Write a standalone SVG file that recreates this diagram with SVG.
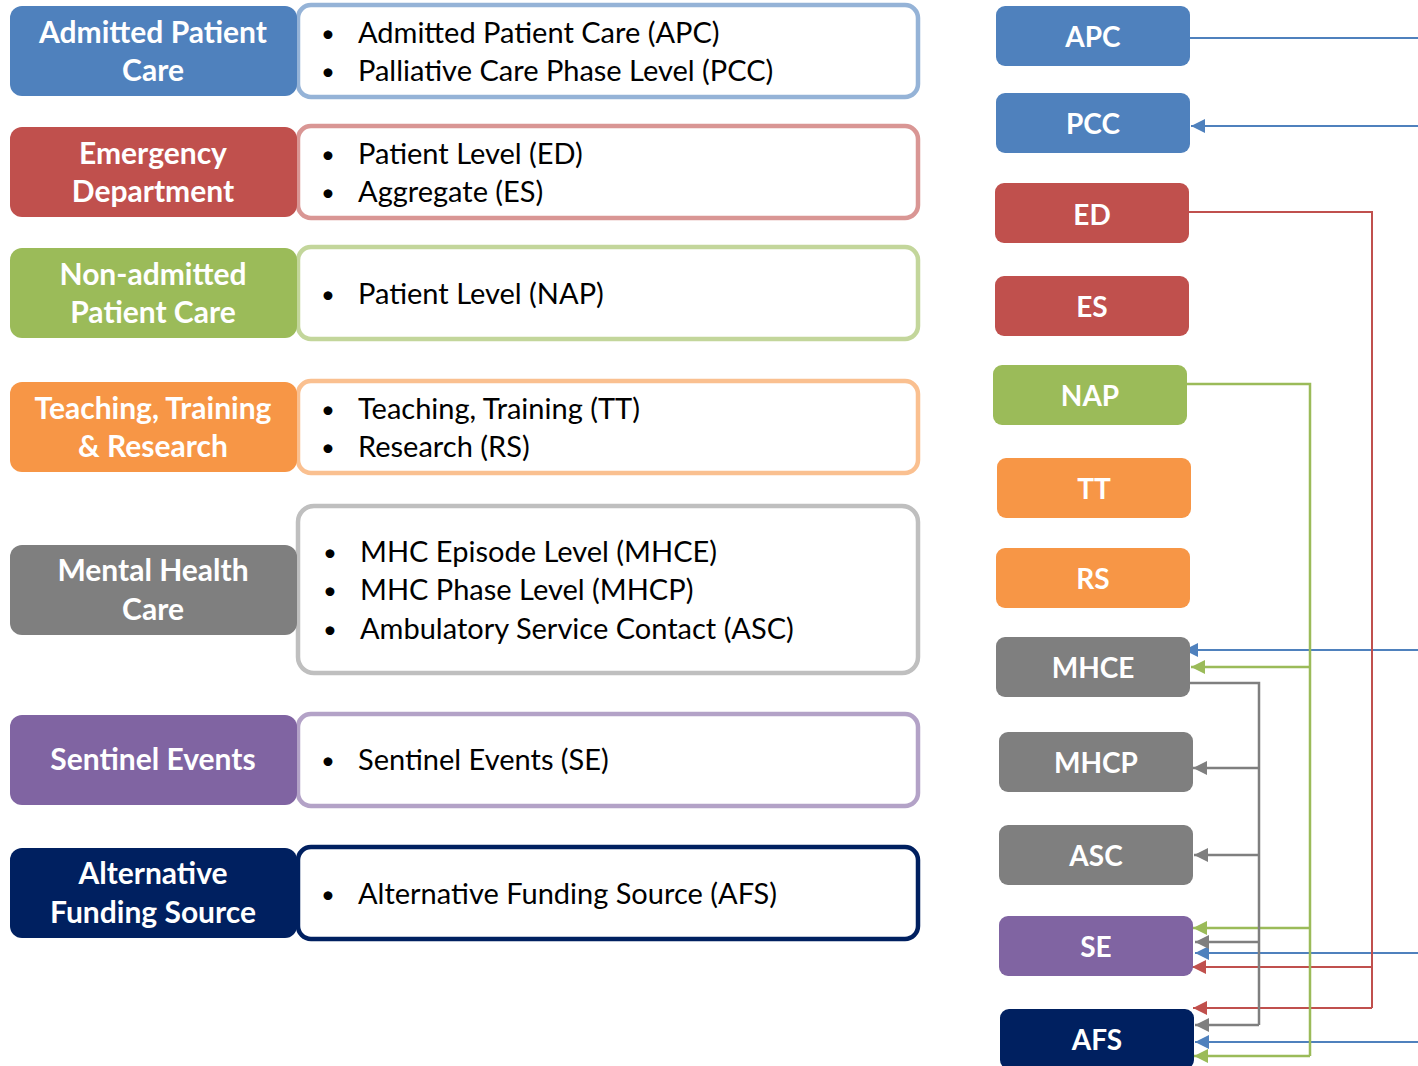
<svg xmlns="http://www.w3.org/2000/svg" width="1418" height="1066" viewBox="0 0 1418 1066">
<style>
.lab{font-family:Lato,"Open Sans","Liberation Sans",sans-serif;font-weight:bold;font-size:30px;fill:#fff;text-anchor:middle}
.txt{font-family:Lato,"Open Sans","Liberation Sans",sans-serif;font-size:29px;fill:#000}
.bul{font-family:Lato,"Open Sans","Liberation Sans",sans-serif;font-size:24px;fill:#000}
.nl{font-family:Lato,"Open Sans","Liberation Sans",sans-serif;font-weight:bold;font-size:28px;fill:#fff;text-anchor:middle}
.desc{fill:#fff;stroke-width:4.5}
.c{fill:none}
.b{stroke:#4F81BD;stroke-width:2}
.r{stroke:#C0504D;stroke-width:2}
.g{stroke:#9BBB59;stroke-width:2.5}
.k{stroke:#7F7F7F;stroke-width:2.5}
</style>
<defs>
<marker id="ab" markerUnits="userSpaceOnUse" markerWidth="15" markerHeight="15" refX="14" refY="7" orient="auto"><path d="M0,0 L14,7 L0,14 z" fill="#4F81BD"/></marker>
<marker id="ar" markerUnits="userSpaceOnUse" markerWidth="15" markerHeight="15" refX="14" refY="7" orient="auto"><path d="M0,0 L14,7 L0,14 z" fill="#C0504D"/></marker>
<marker id="ag" markerUnits="userSpaceOnUse" markerWidth="15" markerHeight="15" refX="14" refY="7" orient="auto"><path d="M0,0 L14,7 L0,14 z" fill="#9BBB59"/></marker>
<marker id="ak" markerUnits="userSpaceOnUse" markerWidth="15" markerHeight="15" refX="14" refY="7" orient="auto"><path d="M0,0 L14,7 L0,14 z" fill="#7F7F7F"/></marker>
</defs>
<rect width="1418" height="1066" fill="#fff"/>

<g id="cat-apc">
<rect x="298" y="5" width="620" height="92" rx="13" class="desc" stroke="#95B3D7"/>
<rect x="10" y="6" width="287" height="90" rx="12" fill="#4F81BD"/>
<text class="lab" x="153" y="43">Admitted Patient</text>
<text class="lab" x="153" y="81">Care</text>
<text class="bul" x="321" y="42">•</text><text class="txt" x="358" y="43">Admitted Patient Care (APC)</text>
<text class="bul" x="321" y="80">•</text><text class="txt" x="358" y="81">Palliative Care Phase Level (PCC)</text>
</g>
<g id="cat-ed">
<rect x="298" y="126" width="620" height="92" rx="13" class="desc" stroke="#D99694"/>
<rect x="10" y="127" width="287" height="90" rx="12" fill="#C0504D"/>
<text class="lab" x="153" y="164">Emergency</text>
<text class="lab" x="153" y="202">Department</text>
<text class="bul" x="321" y="163">•</text><text class="txt" x="358" y="164">Patient Level (ED)</text>
<text class="bul" x="321" y="201">•</text><text class="txt" x="358" y="202">Aggregate (ES)</text>
</g>
<g id="cat-nap">
<rect x="298" y="247" width="620" height="92" rx="13" class="desc" stroke="#C3D69B"/>
<rect x="10" y="248" width="287" height="90" rx="12" fill="#9BBB59"/>
<text class="lab" x="153" y="285">Non-admitted</text>
<text class="lab" x="153" y="323">Patient Care</text>
<text class="bul" x="321" y="303">•</text><text class="txt" x="358" y="304">Patient Level (NAP)</text>
</g>
<g id="cat-ttr">
<rect x="298" y="381" width="620" height="92" rx="13" class="desc" stroke="#FAC090"/>
<rect x="10" y="382" width="287" height="90" rx="12" fill="#F79646"/>
<text class="lab" x="153" y="419">Teaching, Training</text>
<text class="lab" x="153" y="457">&amp; Research</text>
<text class="bul" x="321" y="418">•</text><text class="txt" x="358" y="419">Teaching, Training (TT)</text>
<text class="bul" x="321" y="456">•</text><text class="txt" x="358" y="457">Research (RS)</text>
</g>
<g id="cat-mhc">
<rect x="298" y="506" width="620" height="167" rx="16" class="desc" stroke="#BFBFBF"/>
<rect x="10" y="545" width="287" height="90" rx="12" fill="#7F7F7F"/>
<text class="lab" x="153" y="581">Mental Health</text>
<text class="lab" x="153" y="620">Care</text>
<text class="bul" x="323" y="561">•</text><text class="txt" x="360" y="562">MHC Episode Level (MHCE)</text>
<text class="bul" x="323" y="599">•</text><text class="txt" x="360" y="600">MHC Phase Level (MHCP)</text>
<text class="bul" x="323" y="638">•</text><text class="txt" x="360" y="639">Ambulatory Service Contact (ASC)</text>
</g>
<g id="cat-se">
<rect x="298" y="714" width="620" height="92" rx="13" class="desc" stroke="#B3A2C7"/>
<rect x="10" y="715" width="287" height="90" rx="12" fill="#8064A2"/>
<text class="lab" x="153" y="770">Sentinel Events</text>
<text class="bul" x="321" y="769">•</text><text class="txt" x="358" y="770">Sentinel Events (SE)</text>
</g>
<g id="cat-afs">
<rect x="298" y="847" width="620" height="92" rx="13" class="desc" stroke="#002060"/>
<rect x="10" y="848" width="287" height="90" rx="12" fill="#002060"/>
<text class="lab" x="153" y="884">Alternative</text>
<text class="lab" x="153" y="923">Funding Source</text>
<text class="bul" x="321" y="903">•</text><text class="txt" x="358" y="904">Alternative Funding Source (AFS)</text>
</g>

<g id="connectors" class="c">
<path class="c b" d="M1190,38 H1418"/>
<path class="c b" d="M1418,126 H1191" marker-end="url(#ab)"/>
<path class="c b" d="M1418,650 H1184" marker-end="url(#ab)"/>
<path class="c b" d="M1418,953 H1195" marker-end="url(#ab)"/>
<path class="c b" d="M1418,1042 H1195" marker-end="url(#ab)"/>
<path class="c r" d="M1189,212 H1372 V1008"/>
<path class="c r" d="M1372,967 H1192" marker-end="url(#ar)"/>
<path class="c r" d="M1372,1008 H1193" marker-end="url(#ar)"/>
<path class="c g" d="M1187,384 H1310 V1056"/>
<path class="c g" d="M1310,667 H1191" marker-end="url(#ag)"/>
<path class="c g" d="M1310,928 H1193" marker-end="url(#ag)"/>
<path class="c g" d="M1310,1056 H1194" marker-end="url(#ag)"/>
<path class="c k" d="M1190,683 H1259 V1025"/>
<path class="c k" d="M1259,768 H1193" marker-end="url(#ak)"/>
<path class="c k" d="M1259,855 H1194" marker-end="url(#ak)"/>
<path class="c k" d="M1259,942 H1195" marker-end="url(#ak)"/>
<path class="c k" d="M1259,1025 H1195" marker-end="url(#ak)"/>
</g>

<g id="n-apc"><rect x="996" y="6" width="194" height="60" rx="9" fill="#4F81BD"/><text class="nl" x="1093" y="47">APC</text></g>
<g id="n-pcc"><rect x="996" y="93" width="194" height="60" rx="9" fill="#4F81BD"/><text class="nl" x="1093" y="134">PCC</text></g>
<g id="n-ed"><rect x="995" y="183" width="194" height="60" rx="9" fill="#C0504D"/><text class="nl" x="1092" y="225">ED</text></g>
<g id="n-es"><rect x="995" y="276" width="194" height="60" rx="9" fill="#C0504D"/><text class="nl" x="1092" y="317">ES</text></g>
<g id="n-nap"><rect x="993" y="365" width="194" height="60" rx="9" fill="#9BBB59"/><text class="nl" x="1090" y="406">NAP</text></g>
<g id="n-tt"><rect x="997" y="458" width="194" height="60" rx="9" fill="#F79646"/><text class="nl" x="1094" y="499">TT</text></g>
<g id="n-rs"><rect x="996" y="548" width="194" height="60" rx="9" fill="#F79646"/><text class="nl" x="1093" y="589">RS</text></g>
<g id="n-mhce"><rect x="996" y="637" width="194" height="60" rx="9" fill="#7F7F7F"/><text class="nl" x="1093" y="678">MHCE</text></g>
<g id="n-mhcp"><rect x="999" y="732" width="194" height="60" rx="9" fill="#7F7F7F"/><text class="nl" x="1096" y="773">MHCP</text></g>
<g id="n-asc"><rect x="999" y="825" width="194" height="60" rx="9" fill="#7F7F7F"/><text class="nl" x="1096" y="866">ASC</text></g>
<g id="n-se"><rect x="999" y="916" width="194" height="60" rx="9" fill="#8064A2"/><text class="nl" x="1096" y="957">SE</text></g>
<g id="n-afs"><rect x="1000" y="1009" width="194" height="60" rx="9" fill="#002060"/><text class="nl" x="1097" y="1050">AFS</text></g>
</svg>
